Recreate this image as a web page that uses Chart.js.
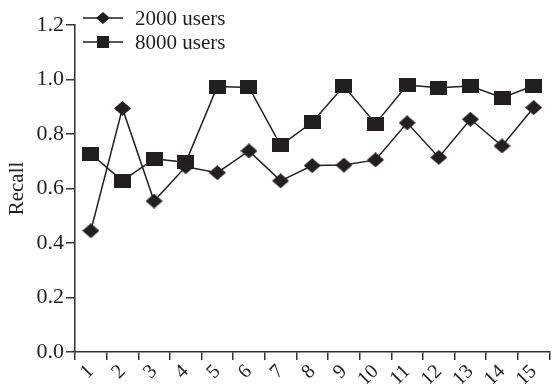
<!DOCTYPE html>
<html>
<head>
<meta charset="utf-8">
<script src="https://cdn.jsdelivr.net/npm/chart.js@4/dist/chart.umd.min.js"></script>
<style>
  html, body { margin: 0; padding: 0; background: #fff; }
  #c { display: block; }
</style>
</head>
<body>
<canvas id="c" width="555" height="384"></canvas>
<script>
// Experiment index along the x axis
const categories = ['1', '2', '3', '4', '5', '6', '7', '8', '9', '10', '11', '12', '13', '14', '15'];
// Recall per experiment
const recall2000 = [0.445, 0.894, 0.554, 0.680, 0.658, 0.738, 0.628, 0.684, 0.686, 0.705, 0.841, 0.714, 0.854, 0.756, 0.897];
const recall8000 = [0.727, 0.628, 0.709, 0.696, 0.974, 0.971, 0.758, 0.843, 0.976, 0.838, 0.980, 0.970, 0.976, 0.933, 0.977];
const seriesNames = ['2000 users', '8000 users'];
const yAxisTitle = 'Recall';

const INK = '#231f20';
const FONT = '"Liberation Serif", "Times New Roman", serif';

// Small canvas sprites used as point markers
function makeMarker(shape, w, h) {
  const cv = document.createElement('canvas');
  cv.width = w; cv.height = h;
  const g = cv.getContext('2d');
  g.fillStyle = INK;
  g.beginPath();
  if (shape === 'diamond') {
    g.moveTo(w / 2, 0); g.lineTo(w, h / 2); g.lineTo(w / 2, h); g.lineTo(0, h / 2);
    g.closePath();
  } else {
    g.rect(0, 0, w, h);
  }
  g.fill();
  return cv;
}

const diamondPt = makeMarker('diamond', 17, 15);
const squarePt = makeMarker('square', 17, 14);
const diamondKey = makeMarker('diamond', 14, 12);
const squareKey = makeMarker('square', 12, 12);

// Legend drawn in the upper-left corner: line sample with marker, then the label
const cornerLegend = {
  id: 'cornerLegend',
  afterDatasetsDraw(chart) {
    const ctx = chart.ctx;
    const rows = [
      { y: 18, key: diamondKey },
      { y: 42, key: squareKey }
    ];
    ctx.save();
    chart.data.datasets.forEach((ds, i) => {
      const r = rows[i];
      ctx.strokeStyle = INK;
      ctx.lineWidth = 1.5;
      ctx.beginPath();
      ctx.moveTo(83, r.y);
      ctx.lineTo(123, r.y);
      ctx.stroke();
      ctx.drawImage(r.key, 103 - r.key.width / 2, r.y - r.key.height / 2);
      ctx.fillStyle = INK;
      ctx.font = '21px ' + FONT;
      ctx.textBaseline = 'middle';
      ctx.textAlign = 'left';
      ctx.fillText(ds.label, 135, r.y + 1);
    });
    ctx.restore();
  }
};

new Chart(document.getElementById('c'), {
  type: 'line',
  data: {
    labels: categories,
    datasets: [
      {
        label: seriesNames[0],
        data: recall2000,
        borderColor: INK,
        borderWidth: 1.5,
        pointStyle: diamondPt,
        backgroundColor: INK,
        tension: 0
      },
      {
        label: seriesNames[1],
        data: recall8000,
        borderColor: INK,
        borderWidth: 1.5,
        pointStyle: squarePt,
        backgroundColor: INK,
        tension: 0
      }
    ]
  },
  options: {
    responsive: false,
    animation: false,
    devicePixelRatio: 1,
    events: [],
    layout: { padding: { top: 25, right: 1, left: 0, bottom: 0 } },
    plugins: {
      legend: { display: false },
      tooltip: { enabled: false }
    },
    scales: {
      x: {
        type: 'category',
        offset: true,
        grid: {
          display: true,
          offset: true,
          drawOnChartArea: false,
          drawTicks: true,
          tickLength: 8,
          color: '#333',
          lineWidth: 1.5
        },
        border: { display: true, color: '#333', width: 1.5 },
        ticks: {
          color: INK,
          font: { family: FONT, size: 20 },
          minRotation: 45,
          maxRotation: 45,
          autoSkip: false,
          padding: 0
        },
        afterFit(scale) { scale.height = 32; }
      },
      y: {
        min: 0,
        max: 1.2,
        grid: {
          display: true,
          drawOnChartArea: false,
          drawTicks: true,
          tickLength: 9,
          color: '#333',
          lineWidth: 1.5
        },
        border: { display: true, color: '#333', width: 1.5 },
        ticks: {
          stepSize: 0.2,
          color: INK,
          font: { family: FONT, size: 22 },
          padding: 2,
          callback: (v) => Number(v).toFixed(1)
        },
        title: {
          display: true,
          text: yAxisTitle,
          color: INK,
          font: { family: FONT, size: 21 },
          padding: { top: 5, bottom: 0 }
        },
        afterFit(scale) { scale.width = 75; }
      }
    }
  },
  plugins: [cornerLegend]
});
</script>
</body>
</html>
